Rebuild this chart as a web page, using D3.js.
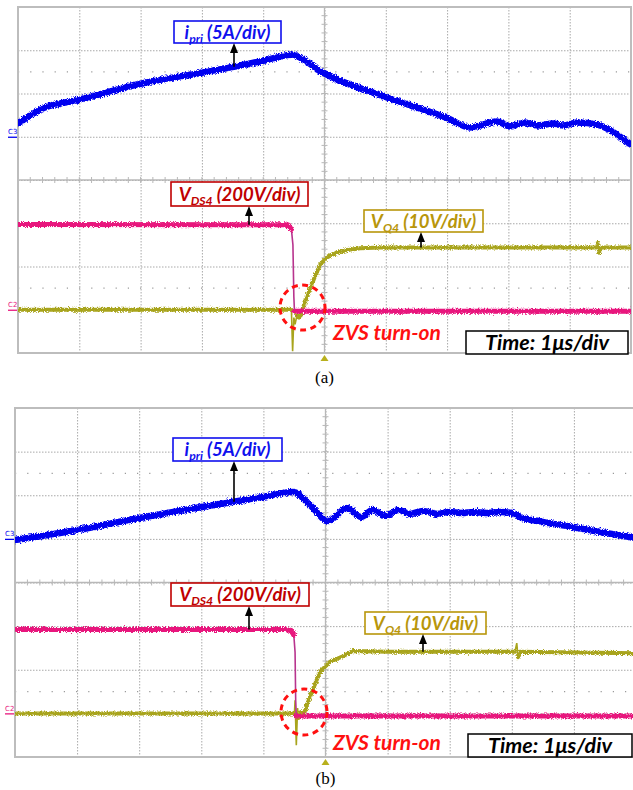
<!DOCTYPE html>
<html>
<head>
<meta charset="utf-8">
<script src="https://cdn.jsdelivr.net/npm/d3@7"></script>
<style>
  html, body { margin: 0; padding: 0; background: #fff; }
  svg { display: block; }
</style>
</head>
<body>
<div id="canvas"></div>
<script>
// Scope shots. Every trace is [time in us, value]
// (a) = first capture, (b) = second capture
var timeDivs = [-5, -4, -3, -2, -1, 0, 1, 2, 3, 4, 5];   // 1 us/div
var levelDivs = [-4, -3, -2, -1, 0, 1, 2, 3, 4];         // 8 vertical divs
var chPerDiv = [5, 200, 10];         // ipri A/div, VDS4 V/div, VQ4 V/div
var chGroundA = [1, -3, -3];         // ground marker of each channel, in divs
var chGroundB = [1, -3, -3];
var panelNames = ['(a)', '(b)'];

var ipriA = [[-5.00, 1.53], [-4.80, 2.46], [-4.56, 3.38], [-4.31, 3.84], [-3.99, 4.31],
  [-2.98, 6.16], [-1.98, 7.43], [-1.46, 8.12], [-0.98, 8.82], [-0.64, 9.39], [-0.53, 9.51],
  [-0.40, 9.16], [-0.25, 8.50], [-0.08, 7.60], [0.09, 7.00], [1.02, 4.54], [2.02, 2.11],
  [2.37, 1.07], [2.81, 1.76], [3.03, 1.18], [3.27, 1.65], [3.48, 1.30], [3.73, 1.53],
  [3.89, 1.30], [4.12, 1.65], [4.45, 1.42], [4.54, 1.18], [5.00, -0.90]];
var vdsA = [[-5.00, 394], [-0.64, 393], [-0.58, 388], [-0.54, 372], [-0.515, 300],
  [-0.50, 60], [-0.49, -7], [5.00, -7]];
var vq4A = [[-5.00, 0], [-0.54, 0], [-0.52, -9.6], [-0.50, -1.8], [-0.48, -3.4],
  [-0.45, -1.3], [-0.40, -1.8], [-0.35, 0.5], [-0.30, 2.4], [-0.24, 4.7], [-0.15, 7.9],
  [-0.07, 10.5], [0.04, 12.1], [0.17, 13.0], [0.33, 13.7], [0.58, 14.2], [0.91, 14.4],
  [4.44, 14.4], [4.46, 15.5], [4.48, 13.2], [4.51, 14.4], [5.00, 14.4]];

var ipriB = [[-5.00, -0.13], [-4.00, 1.02], [-3.00, 2.40], [-1.99, 3.66], [-1.01, 4.81],
  [-0.52, 5.38], [-0.25, 3.89], [0.04, 2.05], [0.35, 3.54], [0.57, 2.51], [0.76, 3.31],
  [0.97, 2.63], [1.17, 3.31], [1.36, 2.86], [1.57, 3.20], [1.80, 2.86], [1.99, 3.08],
  [2.20, 2.97], [2.38, 3.08], [2.60, 2.97], [2.81, 3.08], [3.00, 2.97], [3.13, 2.51],
  [3.50, 1.94], [3.98, 1.36], [4.42, 0.79], [5.00, 0.10]];
var vdsB = [[-5.00, 385], [-0.62, 384], [-0.55, 378], [-0.51, 358], [-0.49, 280],
  [-0.48, 60], [-0.47, -12], [5.00, -12]];
var vq4B = [[-5.00, 0], [-0.50, 0], [-0.49, 3.0], [-0.47, -7.3], [-0.45, 1.2],
  [-0.43, -1.5], [-0.40, 0.3], [-0.36, -0.6], [-0.30, 1.9], [-0.22, 4.9], [-0.09, 9.5],
  [0.07, 11.8], [0.28, 13.1], [0.44, 14.3], [1.00, 14.1], [3.05, 14.1], [3.08, 16.1],
  [3.10, 12.9], [3.13, 14.1], [5.00, 13.8]];

// label texts: [text, isSubscript]
var ipriLabel = [['i', false], ['pri', true], [' (5A/div)', false]];
var vdsLabel = [['V', false], ['DS4', true], [' (200V/div)', false]];
var vq4Label = [['V', false], ['Q4', true], [' (10V/div)', false]];
var zvsText = 'ZVS turn-on';
var timeText = 'Time: 1\u03bcs/div';

(function (d3) {
  var svg,
    W = 633,
    H = 790,
    labelFont = 'Lato, "Open Sans", sans-serif',
    chColor = ['#0000f0', '#e8167d', '#a8a41c'],
    chThin = ['#0000f0', '#b8348e', '#a8a41c'],
    chWidth = [6.5, 5, 4],
    // the current rings smoothly, the voltages have sharp edges
    chCurve = [d3.curveMonotoneX, d3.curveLinear, d3.curveLinear];

  var panels = [
    { left: 18, top: 7, w: 613, h: 346, ground: chGroundA, traces: [ipriA, vdsA, vq4A],
      name: panelNames[0], nameY: 383,
      boxes: [
        { ch: 0, parts: ipriLabel, x: 174, y: 21, w: 107, h: 22, ax: 234, color: '#1010ee' },
        { ch: 1, parts: vdsLabel, x: 171, y: 182, w: 137, h: 24, ax: 249, color: '#c00000' },
        { ch: 2, parts: vq4Label, x: 364, y: 210, w: 119, h: 22, ax: 421, color: '#b8960b' }
      ],
      zvs: { cx: 302.5, cy: 307.5, r: 22.5, tx: 333, ty: 340 },
      time: { x: 466, y: 331, w: 162, h: 23 } },
    { left: 15, top: 408, w: 621, h: 349, ground: chGroundB, traces: [ipriB, vdsB, vq4B],
      name: panelNames[1], nameY: 784,
      boxes: [
        { ch: 0, parts: ipriLabel, x: 173, y: 438, w: 109, h: 23, ax: 234, color: '#1010ee' },
        { ch: 1, parts: vdsLabel, x: 171, y: 583, w: 138, h: 23, ax: 249, color: '#c00000' },
        { ch: 2, parts: vq4Label, x: 365, y: 612, w: 121, h: 22, ax: 423, color: '#b8960b' }
      ],
      zvs: { cx: 304, cy: 712, r: 23, tx: 333, ty: 750 },
      time: { x: 468, y: 734, w: 164, h: 23 } }
  ];

  init();

  function init () {
    createSvg();
    createDefs();
    panels.forEach(drawPanel);
  }

  function createSvg () {
    svg = d3.select('#canvas')
      .append('svg')
      .attr('width', W)
      .attr('height', H)
      .style('font-family', labelFont);
    svg.append('rect').attr('width', W).attr('height', H).attr('fill', '#fff');
  }

  function createDefs () {
    var defs = svg.append('defs');
    // jitter so the thick traces look like sampled, noisy scope traces
    var f = defs.append('filter')
      .attr('id', 'scope-noise')
      .attr('filterUnits', 'userSpaceOnUse')
      .attr('x', 0).attr('y', 0).attr('width', W).attr('height', H);
    f.append('feTurbulence')
      .attr('type', 'fractalNoise')
      .attr('baseFrequency', '1.3 0.9')
      .attr('numOctaves', 2)
      .attr('seed', 4)
      .attr('result', 'n');
    f.append('feDisplacementMap')
      .attr('in', 'SourceGraphic')
      .attr('in2', 'n')
      .attr('scale', 5)
      .attr('xChannelSelector', 'R')
      .attr('yChannelSelector', 'G');

    defs.append('marker')
      .attr('id', 'arrow-head')
      .attr('markerUnits', 'userSpaceOnUse')
      .attr('markerWidth', 10)
      .attr('markerHeight', 10)
      .attr('viewBox', '0 0 10 10')
      .attr('refX', 5)
      .attr('refY', 5)
      .attr('orient', 'auto')
      .append('path')
      .attr('d', 'M0,1 L10,5 L0,9 Z')
      .attr('fill', '#000');

    panels.forEach(function (p, i) {
      defs.append('clipPath')
        .attr('id', 'clip-' + i)
        .append('rect')
        .attr('x', p.left).attr('y', p.top)
        .attr('width', p.w).attr('height', p.h);
    });
  }

  function drawPanel (p, i) {
    var g = svg.append('g');
    var x = d3.scaleLinear().domain([-5, 5]).range([p.left, p.left + p.w]);
    var yDiv = d3.scaleLinear().domain([-4, 4]).range([p.top + p.h, p.top]);
    // one y scale per channel: volts (or amps) per div + ground offset
    var yCh = chPerDiv.map(function (k, c) {
      return d3.scaleLinear()
        .domain([(-4 - p.ground[c]) * k, (4 - p.ground[c]) * k])
        .range([p.top + p.h, p.top]);
    });

    drawGrid(g, p, x, yDiv);
    drawMarkers(g, p, x, yCh);

    var tg = g.append('g').attr('clip-path', 'url(#clip-' + i + ')');
    // draw order: current, gate voltage, drain voltage
    [0, 2, 1].forEach(function (c) {
      drawTrace(tg, p.traces[c], x, yCh[c], c);
    });

    p.boxes.forEach(function (b) {
      drawLabel(g, b, valueAt(p.traces[b.ch], x.invert(b.ax)), yCh[b.ch]);
    });

    // ZVS circle + note
    g.append('ellipse')
      .attr('cx', p.zvs.cx).attr('cy', p.zvs.cy)
      .attr('rx', p.zvs.r).attr('ry', p.zvs.r)
      .attr('fill', 'none')
      .attr('stroke', '#ff1010')
      .attr('stroke-width', 3)
      .attr('stroke-dasharray', '6,4.5');
    g.append('text')
      .attr('x', p.zvs.tx).attr('y', p.zvs.ty)
      .attr('fill', '#ff1010')
      .style('font-size', '21px')
      .style('font-weight', 'bold')
      .style('font-style', 'italic')
      .text(zvsText);

    g.append('rect')
      .attr('x', p.time.x).attr('y', p.time.y)
      .attr('width', p.time.w).attr('height', p.time.h)
      .attr('fill', '#fff')
      .attr('stroke', '#000')
      .attr('stroke-width', 1.5);
    g.append('text')
      .attr('x', p.time.x + p.time.w / 2)
      .attr('y', p.time.y + p.time.h / 2 + 7.5)
      .attr('text-anchor', 'middle')
      .style('font-size', '21.5px')
      .style('font-weight', 'bold')
      .style('font-style', 'italic')
      .text(timeText);

    g.append('text')
      .attr('x', x(0))
      .attr('y', p.nameY)
      .attr('text-anchor', 'middle')
      .style('font-family', '"Liberation Serif", "Times New Roman", serif')
      .style('font-size', '17px')
      .text(p.name);
  }

  function drawGrid (g, p, x, yDiv) {
    var grid = g.append('g');
    grid.append('g')
      .attr('transform', 'translate(0,' + p.top + ')')
      .call(d3.axisBottom(x).tickValues(timeDivs.slice(1, -1)).tickSize(p.h).tickFormat(''))
      .call(function (a) { a.select('.domain').remove(); })
      .selectAll('line')
      .attr('stroke', '#a9a9a9')
      .attr('stroke-dasharray', '1.5,1.5');
    grid.append('g')
      .attr('transform', 'translate(' + p.left + ',0)')
      .call(d3.axisRight(yDiv).tickValues(levelDivs.slice(1, -1)).tickSize(p.w).tickFormat(''))
      .call(function (a) { a.select('.domain').remove(); })
      .selectAll('line')
      .attr('stroke', '#a9a9a9')
      .attr('stroke-dasharray', '1.5,1.5');

    // sparse dotted reference rows at +/- 2.5 div
    [-2.5, 2.5].forEach(function (d) {
      grid.append('line')
        .attr('x1', p.left).attr('x2', p.left + p.w)
        .attr('y1', yDiv(d)).attr('y2', yDiv(d))
        .attr('stroke', '#9a9a9a')
        .attr('stroke-width', 1.2)
        .attr('stroke-dasharray', '1.2,11');
    });

    // centre cross with minor ticks
    grid.append('line')
      .attr('x1', p.left).attr('x2', p.left + p.w)
      .attr('y1', yDiv(0)).attr('y2', yDiv(0))
      .attr('stroke', '#b8b8b8').attr('stroke-width', 1.3);
    grid.append('line')
      .attr('x1', x(0)).attr('x2', x(0))
      .attr('y1', p.top).attr('y2', p.top + p.h)
      .attr('stroke', '#b8b8b8').attr('stroke-width', 1.3);
    grid.append('g')
      .selectAll('line')
      .data(d3.range(-25, 26).map(function (k) { return k / 5; }))
      .enter()
      .append('line')
      .attr('x1', function (t) { return x(t); })
      .attr('x2', function (t) { return x(t); })
      .attr('y1', yDiv(0) - 3).attr('y2', yDiv(0) + 3)
      .attr('stroke', '#b8b8b8');
    grid.append('g')
      .selectAll('line')
      .data(d3.range(-20, 21).map(function (k) { return k / 5; }))
      .enter()
      .append('line')
      .attr('y1', function (d) { return yDiv(d); })
      .attr('y2', function (d) { return yDiv(d); })
      .attr('x1', x(0) - 3).attr('x2', x(0) + 3)
      .attr('stroke', '#b8b8b8');

    grid.append('rect')
      .attr('x', p.left).attr('y', p.top)
      .attr('width', p.w).attr('height', p.h)
      .attr('fill', 'none')
      .attr('stroke', '#bdbdbd')
      .attr('stroke-width', 2);
  }

  function drawMarkers (g, p, x, yCh) {
    // channel ground markers on the left edge
    [[0, 'C3'], [1, 'C2']].forEach(function (m) {
      var gy = yCh[m[0]](0);
      g.append('text')
        .attr('x', p.left - 10).attr('y', gy - 2.5)
        .attr('fill', chColor[m[0]])
        .style('font-family', '"DejaVu Sans", sans-serif')
        .style('font-size', '7px')
        .text(m[1]);
      g.append('line')
        .attr('x1', p.left - 10).attr('x2', p.left - 1)
        .attr('y1', gy + 0.5).attr('y2', gy + 0.5)
        .attr('stroke', chColor[m[0]])
        .attr('stroke-width', 1.3);
    });
    // trigger position
    var tx = x(0), by = p.top + p.h;
    g.append('path')
      .attr('d', 'M' + (tx - 4) + ',' + (by + 8) + 'L' + (tx + 4) + ',' + (by + 8) + 'L' + tx + ',' + (by + 2) + 'Z')
      .attr('fill', '#b8b01c');
  }

  function drawTrace (g, data, x, y, c) {
    var pts = data.map(function (d) { return [x(d[0]), y(d[1])]; });
    var line = d3.line().curve(chCurve[c]);
    // fast edges are thin on the scope, flat parts are a thick noisy band
    var runs = [], run = [pts[0]];
    for (var i = 1; i < pts.length; i++) {
      var dx = pts[i][0] - pts[i - 1][0];
      var dy = Math.abs(pts[i][1] - pts[i - 1][1]);
      if (dy > 4 * Math.max(dx, 0.01)) {
        if (run.length > 1) runs.push(run);
        run = [pts[i]];
      } else {
        run.push(pts[i]);
      }
    }
    if (run.length > 1) runs.push(run);

    g.append('path')
      .attr('d', line(pts))
      .attr('fill', 'none')
      .attr('stroke', chThin[c])
      .attr('stroke-width', 1.6);

    g.append('g')
      .attr('filter', 'url(#scope-noise)')
      .selectAll('path')
      .data(runs)
      .enter()
      .append('path')
      .attr('d', line)
      .attr('fill', 'none')
      .attr('stroke', chColor[c])
      .attr('stroke-width', chWidth[c])
      .attr('stroke-linejoin', 'round')
      .attr('stroke-linecap', 'round');
  }

  function valueAt (data, t) {
    var i = d3.bisector(function (d) { return d[0]; }).left(data, t);
    if (i <= 0) return data[0][1];
    if (i >= data.length) return data[data.length - 1][1];
    var a = data[i - 1], b = data[i];
    return a[1] + (b[1] - a[1]) * (t - a[0]) / (b[0] - a[0]);
  }

  function drawLabel (g, b, v, y) {
    var size = 18.5;
    g.append('rect')
      .attr('x', b.x).attr('y', b.y)
      .attr('width', b.w).attr('height', b.h)
      .attr('fill', '#fff')
      .attr('stroke', b.color)
      .attr('stroke-width', 1.6);
    var txt = g.append('text')
      .attr('x', b.x + b.w / 2)
      .attr('y', b.y + b.h / 2 + 6.5)
      .attr('text-anchor', 'middle')
      .attr('fill', b.color)
      .style('font-size', size + 'px')
      .style('font-weight', 'bold')
      .style('font-style', 'italic');
    var shift = 0;
    b.parts.forEach(function (part) {
      var want = part[1] ? 4 : 0;
      txt.append('tspan')
        .attr('dy', want - shift)
        .style('font-size', (part[1] ? size * 0.66 : size) + 'px')
        .text(part[0]);
      shift = want;
    });
    g.append('line')
      .attr('x1', b.ax).attr('x2', b.ax)
      .attr('y1', y(v)).attr('y2', b.y + b.h + 5)
      .attr('stroke', '#000')
      .attr('stroke-width', 1.6)
      .attr('marker-end', 'url(#arrow-head)');
  }
})(window.d3);
</script>
</body>
</html>
